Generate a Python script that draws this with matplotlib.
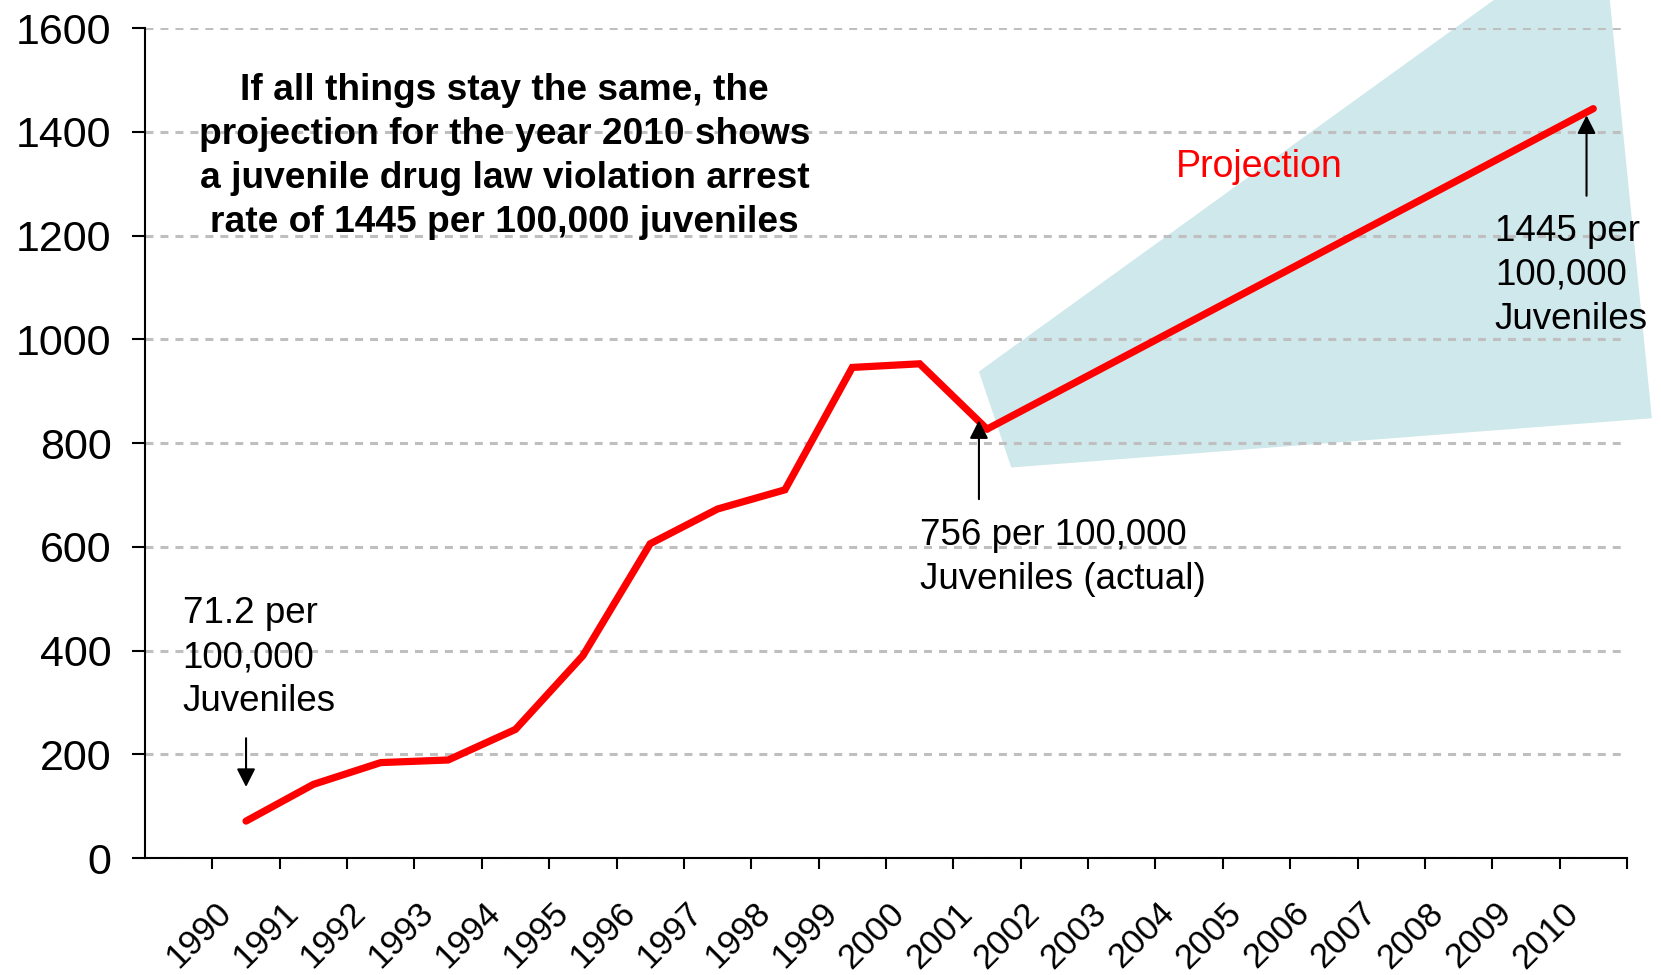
import matplotlib
matplotlib.use("Agg")
import matplotlib.pyplot as plt
from matplotlib.patches import Polygon
from matplotlib.transforms import ScaledTranslation

plt.rcParams["font.family"] = ["Liberation Sans", "DejaVu Sans"]

# actual arrest rate per 100,000 juveniles
years = list(range(1990, 2011))
actual_years = list(range(1990, 2002))
actual_rate = [71.2, 142, 184, 189, 248, 390, 606, 673, 710, 946, 953, 827]

# straight-line projection 2001 -> 2010
proj_years = [2001, 2010]
proj_rate = [827, 1445]

# shaded projection cone (year, rate)
cone_years = [2000.88, 2009.01, 2010.21, 2010.87, 2001.36]
cone_rate = [938, 1700, 1700, 848, 753]

fig = plt.figure(figsize=(16.61, 9.75), dpi=100)
ax = fig.add_axes([0.0873, 0.12, 0.8922, 0.851])

cone = Polygon(list(zip(cone_years, cone_rate)), closed=True, facecolor="#cfe8eb",
               edgecolor="none", zorder=0.2, clip_on=False)
ax.add_patch(cone)

ax.plot(actual_years, actual_rate, color="#ff0000", lw=5.2, solid_capstyle="round",
        solid_joinstyle="miter", zorder=3)
ax.plot(proj_years, proj_rate, color="#ff0000", lw=5.2, solid_capstyle="round", zorder=3)

ax.set_xlim(1988.5, 2010.5)
ax.set_ylim(0, 1600)
ax.set_yticks(range(0, 1601, 200))
ax.set_xticks(years)
ax.set_xticklabels([str(y) for y in years], rotation=45, ha="right", va="center",
                   rotation_mode="anchor", fontsize=25)
ax.set_xticks([y - 0.5 for y in years] + [2010.5], minor=True)
ax.tick_params(axis="x", which="major", length=0, pad=36)
ax.tick_params(axis="x", which="minor", length=8, width=1.5, direction="out")
ax.tick_params(axis="y", length=9.5, width=1.5, direction="out", labelsize=31, pad=14.5)

# nudge the rotated year labels left, as in the original
shift = ScaledTranslation(-0.2, 0, fig.dpi_scale_trans)
for lab in ax.get_xticklabels():
    lab.set_transform(lab.get_transform() + shift)

for s in ["top", "right"]:
    ax.spines[s].set_visible(False)
for s in ["left", "bottom"]:
    ax.spines[s].set_linewidth(1.5)

ax.set_axisbelow(True)
ax.yaxis.grid(True, color="#bfbfbf", lw=2.2, linestyle=(0, (2.6, 2.3)))
ax.set_facecolor("none")

ax.text(1993.84, 1208, "If all things stay the same, the\nprojection for the year 2010 shows\n"
        "a juvenile drug law violation arrest\nrate of 1445 per 100,000 juveniles",
        ha="center", va="baseline", fontsize=26.7, fontweight="bold", linespacing=1.33)

ax.text(2003.81, 1313, "Projection", color="#ff0000", fontsize=27, va="baseline")

ax.text(1989.06, 283, "71.2 per\n100,000\nJuveniles", fontsize=26.5, va="baseline",
        linespacing=1.33)
ax.text(2000.0, 518, "756 per 100,000\nJuveniles (actual)", fontsize=26.5, va="baseline",
        linespacing=1.33)
ax.text(2008.54, 1021, "1445 per\n100,000\nJuveniles", fontsize=26.5, va="baseline",
        linespacing=1.33)

arrow = dict(arrowstyle="-|>,head_length=0.55,head_width=0.28", color="black", lw=1.5,
             mutation_scale=20, shrinkA=0, shrinkB=0)
ax.annotate("", xy=(1990, 137), xytext=(1990, 231), arrowprops=arrow)
ax.annotate("", xy=(2000.88, 844), xytext=(2000.88, 692), arrowprops=arrow)
ax.annotate("", xy=(2009.9, 1432), xytext=(2009.9, 1277), arrowprops=arrow)

fig.savefig("out.png", dpi=100)
